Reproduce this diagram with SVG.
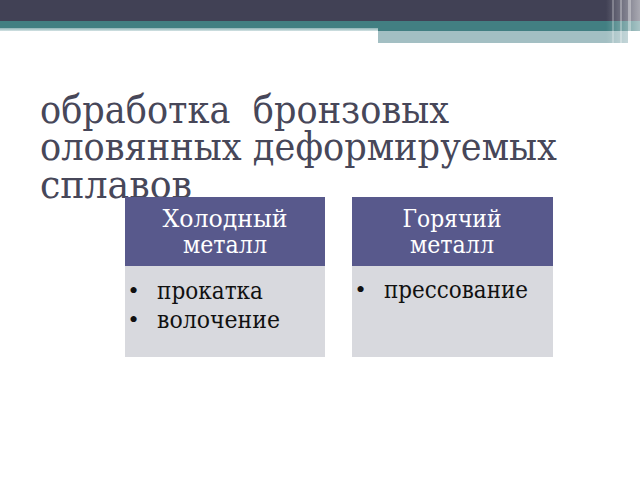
<svg xmlns="http://www.w3.org/2000/svg" width="640" height="480" viewBox="0 0 640 480">
  <defs>
    <linearGradient id="strip" x1="0" y1="0" x2="0" y2="1">
      <stop offset="0" stop-color="#8fb3b6"/>
      <stop offset="1" stop-color="#d4e3e4"/>
    </linearGradient>
    <linearGradient id="fade" x1="0" y1="0" x2="1" y2="0">
      <stop offset="0" stop-color="#ffffff" stop-opacity="0"/>
      <stop offset="1" stop-color="#ffffff" stop-opacity="0.55"/>
    </linearGradient>
  </defs>
  <style>
    .title { font-family: "DejaVu Serif", "Liberation Serif", serif; font-size: 39px; fill: #474759; }
    .head { fill: #58598c; }
    .body { fill: #d8d9de; }
    .htext { font-family: "DejaVu Serif", "Liberation Serif", serif; font-size: 24px; fill: #ffffff; text-anchor: middle; }
    .btext { font-family: "DejaVu Serif", "Liberation Serif", serif; font-size: 25px; fill: #111111; }
    .bul { font-family: "Liberation Serif", serif; font-size: 26px; fill: #111111; }
  </style>
  <rect width="640" height="480" fill="#ffffff"/>
  <!-- top bars -->
  <g id="topbar">
    <rect x="0" y="0" width="640" height="21" fill="#414155"/>
    <rect x="0" y="21" width="640" height="7" fill="#427f82"/>
    <rect x="0" y="28" width="378" height="3" fill="url(#strip)"/>
    <rect x="378" y="28" width="262" height="3" fill="#427f82"/>
    <rect x="378" y="31" width="250" height="12" fill="#a3bfc3"/>
    <rect x="606" y="0" width="34" height="43" fill="url(#fade)"/>
    <rect x="612" y="0" width="2" height="43" fill="#ffffff" opacity="0.25"/>
    <rect x="620" y="0" width="2" height="43" fill="#ffffff" opacity="0.3"/>
    <rect x="628" y="0" width="3" height="43" fill="#ffffff" opacity="0.35"/>
  </g>
  <!-- title -->
  <g id="title">
    <text class="title" x="40" y="123" xml:space="preserve" textLength="409" lengthAdjust="spacingAndGlyphs">обработка  бронзовых</text>
    <text class="title" x="40" y="160" textLength="517" lengthAdjust="spacingAndGlyphs">оловянных деформируемых</text>
    <text class="title" x="40" y="198" textLength="152" lengthAdjust="spacingAndGlyphs">сплавов</text>
  </g>
  <!-- left node -->
  <g id="node-cold">
    <rect class="head" x="125" y="197" width="200" height="69"/>
    <rect class="body" x="125" y="266" width="200" height="91"/>
    <text class="htext" x="225" y="227" textLength="125" lengthAdjust="spacingAndGlyphs">Холодный</text>
    <text class="htext" x="225" y="253" textLength="84" lengthAdjust="spacingAndGlyphs">металл</text>
    <text class="bul" x="129" y="299">•</text>
    <text class="btext" x="157" y="299" textLength="106" lengthAdjust="spacingAndGlyphs">прокатка</text>
    <text class="bul" x="129" y="328">•</text>
    <text class="btext" x="157" y="328" textLength="123" lengthAdjust="spacingAndGlyphs">волочение</text>
  </g>
  <!-- right node -->
  <g id="node-hot">
    <rect class="head" x="352" y="197" width="201" height="69"/>
    <rect class="body" x="352" y="266" width="201" height="91"/>
    <text class="htext" x="452" y="227" textLength="99" lengthAdjust="spacingAndGlyphs">Горячий</text>
    <text class="htext" x="452" y="253" textLength="84" lengthAdjust="spacingAndGlyphs">металл</text>
    <text class="bul" x="356" y="298">•</text>
    <text class="btext" x="384" y="298" textLength="144" lengthAdjust="spacingAndGlyphs">прессование</text>
  </g>
  <g id="connectors"></g>
</svg>
